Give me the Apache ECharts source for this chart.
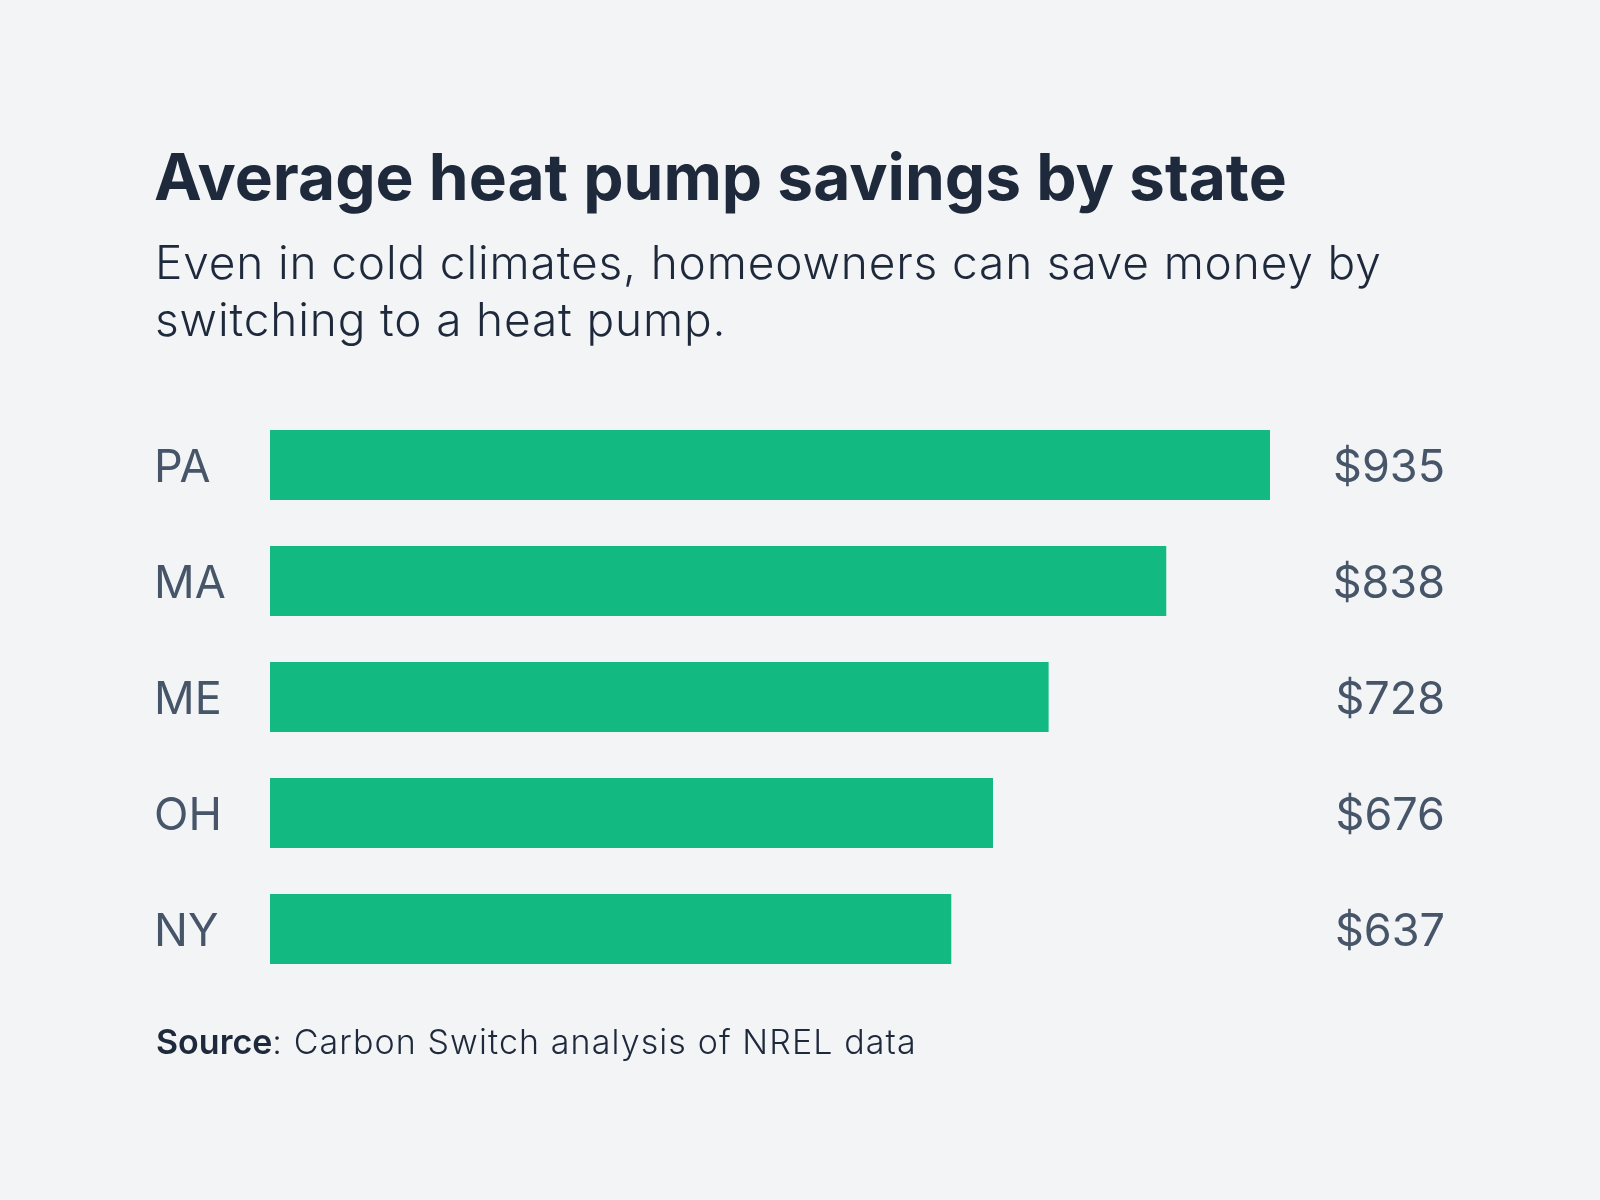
<!DOCTYPE html>
<html><head><meta charset="utf-8">
<script src="https://cdn.jsdelivr.net/npm/echarts@6/dist/echarts.min.js"></script>
<style>html,body{margin:0;padding:0;background:#f3f4f6;}#c{width:1600px;height:1200px;}</style>
</head><body><div id="c"></div>
<script>
const states = ['PA', 'MA', 'ME', 'OH', 'NY'];
const savings = [935, 838, 728, 676, 637];
const titleText = 'Average heat pump savings by state';
const subtitleText = 'Even in cold climates, homeowners can save money by\nswitching to a heat pump.';
const sourceLabel = 'Source';
const sourceText = ': Carbon Switch analysis of NREL data';

// light-weight text in the reference is slightly tracked out
(function () {
  const proto = CanvasRenderingContext2D.prototype;
  const orig = proto.fillText;
  proto.fillText = function (t, x, y, m) {
    const f = this.font || '';
    const light = / 300 /.test(' ' + f + ' ');
    if (light && 'letterSpacing' in this) {
      const sz = parseFloat((f.match(/(\d+(\.\d+)?)px/) || [0, 0])[1]);
      this.letterSpacing = (sz >= 40 ? 0.85 : 1.1) + 'px';
      const r = m === undefined ? orig.call(this, t, x, y) : orig.call(this, t, x, y, m);
      this.letterSpacing = '0px';
      return r;
    }
    return m === undefined ? orig.call(this, t, x, y) : orig.call(this, t, x, y, m);
  };
})();

const chart = echarts.init(document.getElementById('c'));
const F = 'Inter, "Noto Sans", sans-serif';
chart.setOption({
  backgroundColor: '#f3f4f6',
  title: [
    { text: titleText, left: 149, top: 138,
      textStyle: { fontFamily: F, fontSize: 64, fontWeight: 700, color: '#1e293b', lineHeight: 76 } },
    { text: subtitleText, left: 150, top: 232,
      textStyle: { fontFamily: F, fontSize: 46, fontWeight: 300, color: '#1e293b', lineHeight: 57 } },
    { text: '{b|' + sourceLabel + '}' + sourceText, left: 151, top: 1018,
      textStyle: { fontFamily: F, fontSize: 34, fontWeight: 300, color: '#1e293b', lineHeight: 42,
        rich: { b: { fontFamily: F, fontSize: 34, fontWeight: 600, color: '#1e293b', lineHeight: 42 } } } }
  ],
  grid: { left: 270, right: 330, top: 407, height: 580, containLabel: false },
  xAxis: { type: 'value', min: 0, max: 935, show: false },
  yAxis: [
    { type: 'category', data: states, inverse: true,
      axisLine: { show: false }, axisTick: { show: false }, splitLine: { show: false },
      axisLabel: { align: 'left', verticalAlign: 'top', lineHeight: 6, margin: 116, fontFamily: F, fontSize: 45, color: '#475569' } },
    { type: 'category', data: savings.map(v => '$' + v), inverse: true, position: 'right',
      axisLine: { show: false }, axisTick: { show: false }, splitLine: { show: false },
      axisLabel: { align: 'right', verticalAlign: 'top', lineHeight: 6, margin: 175, fontFamily: F, fontSize: 45, color: '#475569' } }
  ],
  series: [{
    type: 'bar', data: savings, barWidth: 70, yAxisIndex: 0,
    itemStyle: { color: '#12b981' }, silent: true, animation: false
  }],
  animation: false
});
</script></body></html>
